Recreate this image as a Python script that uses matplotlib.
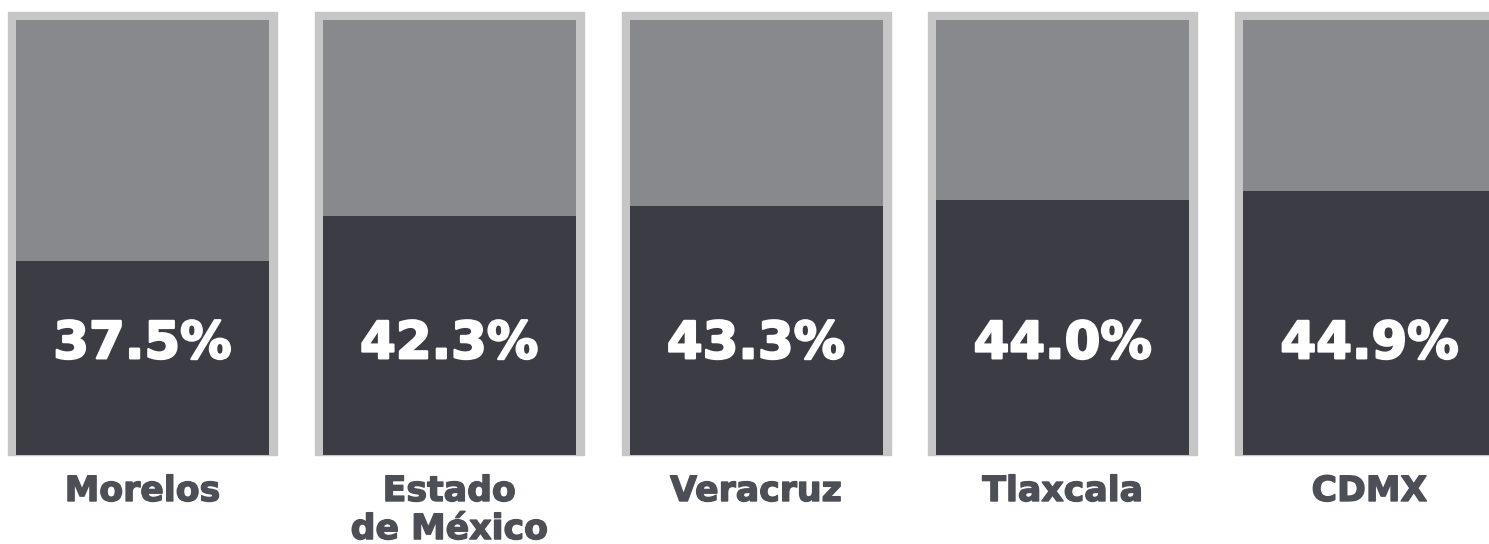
import matplotlib

matplotlib.use("Agg")
import matplotlib.pyplot as plt
import matplotlib.patheffects as pe
from matplotlib.patches import Rectangle

states = ["Morelos", "Estado\nde México", "Veracruz", "Tlaxcala", "CDMX"]
shares = [37.5, 42.3, 43.3, 44.0, 44.9]

W, H = 1489, 544
BASE, TOP = 17.0, 63.0

FRAME = "#c6c6c6"
BOX = "#88898d"
FILL = "#3c3c45"
LABEL = "#4d4f56"

fig = plt.figure(figsize=(W / 100, H / 100), dpi=100)
fig.patch.set_facecolor("white")

x0, step = 16, 306.75
inner_w, top_px, bot_px, border = 253, 20, 455, 8

for i, (name, v) in enumerate(zip(states, shares)):
    left = x0 + i * step
    # light frame around the box, open at the bottom
    fig.patches.append(Rectangle(((left - border) / W, (H - bot_px) / H),
                                 (inner_w + 2 * border) / W,
                                 (bot_px - top_px + border) / H,
                                 transform=fig.transFigure, color=FRAME, zorder=-1))
    ax = fig.add_axes([left / W, (H - bot_px) / H, inner_w / W, (bot_px - top_px) / H])
    ax.set_facecolor(BOX)
    ax.bar(0, v - BASE, bottom=BASE, width=1, color=FILL)
    ax.set_xlim(-0.5, 0.5)
    ax.set_ylim(BASE, TOP)
    ax.set_xticks([])
    ax.set_yticks([])
    for sp in ax.spines.values():
        sp.set_visible(False)
    ax.text(0, 28.7, f"{v:.1f}%", ha="center", va="center", color="white",
            fontsize=37, fontweight="bold", family="DejaVu Sans",
            path_effects=[pe.withStroke(linewidth=1.6, foreground="white")])
    fig.text((left + inner_w / 2) / W, (H - 474) / H, name, ha="center", va="top",
             color=LABEL, fontsize=25, fontweight="bold", family="DejaVu Sans",
             linespacing=1.15,
             path_effects=[pe.withStroke(linewidth=1.0, foreground=LABEL)])

fig.savefig("out.png", dpi=100)
